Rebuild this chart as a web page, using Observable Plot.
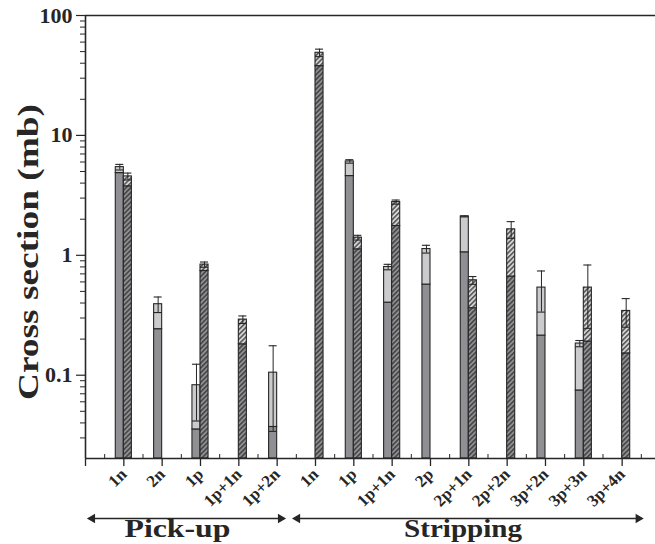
<!DOCTYPE html>
<html><head><meta charset="utf-8">
<script src="https://cdn.jsdelivr.net/npm/d3@7"></script>
<script src="https://cdn.jsdelivr.net/npm/@observablehq/plot@0.6"></script>
<style>body{margin:0;background:#fff}</style>
</head><body>
<svg width="0" height="0" style="position:absolute">
<defs>
<pattern id="hatchDark" patternUnits="userSpaceOnUse" width="3.4" height="3.4" patternTransform="rotate(45)">
<rect width="3.4" height="3.4" fill="#8f8f94"/>
<line x1="0.8" y1="0" x2="0.8" y2="3.4" stroke="#3a3a3a" stroke-width="1.4"/>
</pattern>
<pattern id="hatchLight" patternUnits="userSpaceOnUse" width="3.4" height="3.4" patternTransform="rotate(45)">
<rect width="3.4" height="3.4" fill="#d4d4d6"/>
<line x1="0.8" y1="0" x2="0.8" y2="3.4" stroke="#3a3a3a" stroke-width="1.3"/>
</pattern>
</defs>
</svg>
<div id="chart"></div>
<script>
const categories = ["1n","2n","1p","1p+1n","1p+2n","1n","1p","1p+1n","2p","2p+1n","2p+2n","3p+2n","3p+3n","3p+4n"];
const groupNames = ["Pick-up","Stripping"];
const groupStart = [0.1, 5.45];
const groupEnd = [5.17, 14.5];
const groupLabelPos = [2.4, 9.85];

// solid (plain grey) bars: lower dark part, total, error
const solidLower = [4.85, 0.242, 0.0353, null, 0.037, null, 4.58, 0.403, 0.570, 1.059, null, 0.214, 0.0746, null];
const solidTotal = [5.44, 0.391, 0.0825, null, 0.105, null, 6.07, 0.799, 1.128, 2.11, null, 0.538, 0.1837, null];
const solidErr   = [0.29, 0.058, 0.041, null, 0.071, null, 0.2, 0.042, 0.084, 0.02, null, 0.202, 0.011, null];
// hatched bars
const hatchLower = [3.76, null, 0.74, 0.181, null, 37.8, 1.122, 1.755, null, 0.362, 0.665, null, 0.191, 0.152];
const hatchTotal = [4.55, null, 0.837, 0.291, null, 48.9, 1.404, 2.78, null, 0.619, 1.647, null, 0.538, 0.3435];
const hatchErr   = [0.3, null, 0.042, 0.021, null, 3.5, 0.064, 0.11, null, 0.046, 0.262, null, 0.292, 0.092];

const yTicks = [0.1, 1, 10, 100];
const yTickLabels = ["0.1", "1", "10", "100"];
const yMin = 0.0202, yMax = 100;
const yLabel = "Cross section (mb)";

const W = 0.21; // bar width in category units
const rows = [];
categories.forEach((c, i) => {
  const pos = i + 1;
  if (solidTotal[i] != null) rows.push({side: "solid", x1: pos - W, x2: pos, lower: solidLower[i], total: solidTotal[i], err: solidErr[i]});
  if (hatchTotal[i] != null) rows.push({side: "hatch", x1: pos, x2: pos + W, lower: hatchLower[i], total: hatchTotal[i], err: hatchErr[i]});
});
const solid = rows.filter(d => d.side === "solid");
const hatch = rows.filter(d => d.side === "hatch");
const groups = groupNames.map((g, i) => ({name: g, from: groupStart[i], to: groupEnd[i], label: groupLabelPos[i]}));

const minorY = [];
for (const dec of [0.01, 0.1, 1, 10]) for (let k = 2; k <= 9; k++) { const v = dec * k; if (v > yMin && v < yMax) minorY.push(v); }
const majorX = d3.range(0, 15);
const minorX = d3.range(0.5, 14.6, 1);

const ink = "#262626";
const serif = "Liberation Serif, Times New Roman, serif";

const plot = Plot.plot({
  width: 655, height: 544,
  marginLeft: 85, marginRight: 0, marginTop: 15, marginBottom: 86,
  style: {fontFamily: serif, background: "#fff", color: ink},
  x: {type: "linear", domain: [0, 14.87], range: [85, 655]},
  y: {type: "log", domain: [yMin, yMax]},
  marks: [
    Plot.rect(solid, {x1: "x1", x2: "x2", y1: () => yMin, y2: "lower", fill: "#8f8f94", stroke: ink, strokeWidth: 1.1}),
    Plot.rect(solid, {x1: "x1", x2: "x2", y1: "lower", y2: "total", fill: "#cbcbcd", stroke: ink, strokeWidth: 1.1}),
    Plot.rect(hatch, {x1: "x1", x2: "x2", y1: () => yMin, y2: "lower", fill: "url(#hatchDark)", stroke: ink, strokeWidth: 1.1}),
    Plot.rect(hatch, {x1: "x1", x2: "x2", y1: "lower", y2: "total", fill: "url(#hatchLight)", stroke: ink, strokeWidth: 1.1}),
    Plot.ruleX(rows, {x: d => (d.x1 + d.x2) / 2, y1: d => d.total - d.err, y2: d => d.total + d.err, stroke: ink, strokeWidth: 1}),
    Plot.ruleY(rows, {y: d => d.total + d.err, x1: "x1", x2: "x2", stroke: ink, strokeWidth: 1.1}),
    Plot.ruleY(rows, {y: d => d.total - d.err, x1: "x1", x2: "x2", stroke: ink, strokeWidth: 1.1}),
    Plot.ruleY([yMax], {stroke: ink, strokeWidth: 1.6}),
    Plot.ruleY([yMin], {stroke: ink, strokeWidth: 1.6}),
    Plot.ruleX([0], {stroke: ink, strokeWidth: 1.6}),
    Plot.axisY({ticks: yTicks, tickFormat: d => yTickLabels[yTicks.indexOf(d)], tickSize: 9, tickPadding: 4, fontSize: 22, fontWeight: "bold", stroke: ink, strokeWidth: 1.2, label: null}),
    Plot.axisY({ticks: minorY, tickFormat: () => "", tickSize: 5, stroke: ink, strokeWidth: 1, label: null}),
    Plot.axisX({ticks: majorX, tickFormat: d => d >= 1 ? categories[d - 1] : "", tickSize: 8, tickPadding: 5, tickRotate: -45, fontSize: 17, fontWeight: "bold", stroke: ink, strokeWidth: 1.3, label: null}),
    Plot.axisX({ticks: minorX, tickFormat: () => "", tickSize: -4, stroke: ink, strokeWidth: 1, label: null}),
    Plot.text([yLabel], {frameAnchor: "left", textAnchor: "middle", rotate: -90, dx: -57, dy: 15, fontSize: 30, fontWeight: "bold", fill: ink}),
    Plot.link(groups, {x1: "from", x2: "to", y1: () => yMin, y2: () => yMin, dy: 60, stroke: ink, strokeWidth: 1.3}),
    Plot.dot(groups, {x: "from", y: () => yMin, dy: 60, dx: 3, symbol: "triangle", rotate: -90, r: 3.5, fill: ink, stroke: "none"}),
    Plot.dot(groups, {x: "to", y: () => yMin, dy: 60, dx: -3, symbol: "triangle", rotate: 90, r: 3.5, fill: ink, stroke: "none"}),
    Plot.text(groups, {x: "label", y: () => yMin, dy: 70, text: "name", fontSize: 25, fontWeight: "bold", fill: ink})
  ]
});
// stretch texts horizontally like the reference figure
d3.select(plot).selectAll("text").each(function() {
  const t = this.textContent;
  if (t === yLabel) { this.setAttribute("textLength", 296); this.setAttribute("lengthAdjust", "spacingAndGlyphs"); }
  if (t === "Pick-up") { this.setAttribute("textLength", 106); this.setAttribute("lengthAdjust", "spacingAndGlyphs"); }
  if (t === "Stripping") { this.setAttribute("textLength", 118); this.setAttribute("lengthAdjust", "spacingAndGlyphs"); }
});
document.getElementById("chart").appendChild(plot);
</script>
</body></html>
